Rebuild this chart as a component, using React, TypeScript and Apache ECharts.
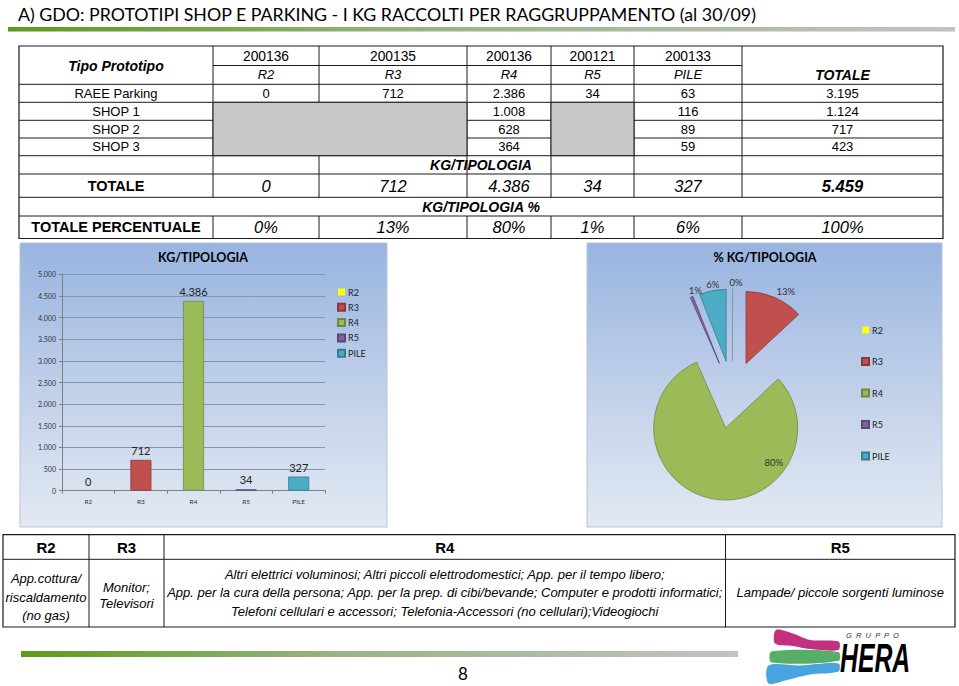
import React, { useEffect, useRef } from 'react';
import * as echarts from 'echarts';

// ---------- data ----------
const categories = ['R2', 'R3', 'R4', 'R5', 'PILE'];
const codes = ['200136', '200135', '200136', '200121', '200133'];
const rowLabels = ['RAEE Parking', 'SHOP 1', 'SHOP 2', 'SHOP 3'];
const raeeParking = [0, 712, 2386, 34, 63, 3195];
const shop1 = [null, null, 1008, null, 116, 1124];
const shop2 = [null, null, 628, null, 89, 717];
const shop3 = [null, null, 364, null, 59, 423];
const totals = [0, 712, 4386, 34, 327];
const grandTotal = 5459;
const percents = [0, 13, 80, 1, 6];
const percentTotal = 100;
const descHeaders = ['R2', 'R3', 'R4', 'R5'];
const descR2 = ['App.cottura/', 'riscaldamento', '(no gas)'];
const descR3 = ['Monitor;', 'Televisori'];
const descR4 = [
  'Altri elettrici voluminosi; Altri piccoli elettrodomestici; App. per il tempo libero;',
  'App. per la cura della persona; App. per la prep. di cibi/bevande; Computer e prodotti informatici;',
  'Telefoni cellulari e accessori; Telefonia-Accessori (no cellulari);Videogiochi',
];
const descR5 = ['Lampade/ piccole sorgenti luminose'];
const titleText = 'A) GDO: PROTOTIPI SHOP E PARKING - I KG RACCOLTI PER RAGGRUPPAMENTO (al 30/09)';

// ---------- styles ----------
const colors = ['#ffff00', '#c0504d', '#9bbb59', '#8064a2', '#4bacc6'];
const borderColors = ['#a8a800', '#8c3836', '#71893f', '#5c4776', '#357d91'];
const pieBorderColors = ['#8193ad', '#8c3836', '#71893f', '#5c4776', '#357d91'];
const pieLabelNudge = [[15, -4], [-4, -4], [56, -4], [16, -5], [12, -4]];
const ARIAL = '"Liberation Sans", Arial, sans-serif';
const CAL = 'Lato, "Noto Sans", sans-serif';

const fmt = (n: number) =>
  n >= 1000 ? `${Math.floor(n / 1000)}.${String(n % 1000).padStart(3, '0')}` : String(n);

function buildGraphics() {
  const G: any[] = [];
  const text = (x: number, y: number, t: string, size: number, opts: any = {}) =>
    G.push({
      type: 'text', x, y, z: opts.z ?? 5,
      scaleX: opts.scaleX ?? 1,
      style: {
        text: t, fontSize: size, fontFamily: opts.family ?? ARIAL,
        fontWeight: opts.weight ?? 'normal', fontStyle: opts.style ?? 'normal',
        fill: opts.fill ?? '#000', align: opts.align ?? 'center', verticalAlign: 'middle',
      },
    });
  const line = (x1: number, y1: number, x2: number, y2: number, w = 1, c = '#1a1a1a') =>
    G.push({ type: 'line', z: 4, shape: { x1, y1, x2, y2 }, style: { stroke: c, lineWidth: w } });
  const gradBar = (x: number, y: number, w: number, h: number) =>
    G.push({
      type: 'rect', z: 3, shape: { x, y, width: w, height: h },
      style: {
        fill: new echarts.graphic.LinearGradient(0, 0, 1, 0, [
          { offset: 0, color: '#5c9a1c' },
          { offset: 0.45, color: '#98b585' },
          { offset: 1, color: '#c2c2c2' },
        ]),
      },
    });

  // title
  text(18, 13.5, titleText, 17.8, { family: CAL, align: 'left' });
  gradBar(8, 27, 947, 4.5);

  // ---------- top table ----------
  const cx = [19, 213, 319, 467, 551, 634, 742, 943];
  const ry = [46, 65.5, 84.3, 102.3, 120.3, 138, 155.7, 174, 197.3, 216, 238.5];
  const mid = (a: number, b: number) => (a + b) / 2;
  G.push({ type: 'rect', z: 4, shape: { x: cx[0], y: ry[0], width: cx[7] - cx[0], height: ry[10] - ry[0] }, style: { fill: 'none', stroke: '#1a1a1a', lineWidth: 1.2 } });
  line(cx[1], ry[1], cx[6], ry[1]);
  for (let r = 2; r <= 9; r++) line(cx[0], ry[r], cx[7], ry[r]);
  for (let c = 1; c <= 6; c++) {
    line(cx[c], ry[0], cx[c], ry[7]);
    line(cx[c], ry[7], cx[c], ry[8]);
    line(cx[c], ry[9], cx[c], ry[10]);
  }
  [[1, 3], [4, 5]].forEach(([a, b]) =>
    G.push({ type: 'rect', z: 4.5, shape: { x: cx[a], y: ry[3], width: cx[b] - cx[a], height: ry[6] - ry[3] }, style: { fill: '#c8c8c8', stroke: '#1a1a1a', lineWidth: 1 } })
  );
  text(mid(cx[0], cx[1]), ry[1], 'Tipo Prototipo', 14, { weight: 'bold', style: 'italic' });
  codes.forEach((c, i) => text(mid(cx[i + 1], cx[i + 2]), mid(ry[0], ry[1]) + 0.5, c, 13.8));
  categories.forEach((c, i) => text(mid(cx[i + 1], cx[i + 2]), mid(ry[1], ry[2]), c, 13, { style: 'italic' }));
  text(mid(cx[6], cx[7]), mid(ry[1], ry[2]), 'TOTALE', 14, { weight: 'bold', style: 'italic' });
  [raeeParking, shop1, shop2, shop3].forEach((row, r) => {
    text(mid(cx[0], cx[1]), mid(ry[r + 2], ry[r + 3]), rowLabels[r], 13);
    row.forEach((v, i) => {
      if (v !== null) text(mid(cx[i + 1], cx[i + 2]), mid(ry[r + 2], ry[r + 3]), fmt(v as number), 13);
    });
  });
  text(mid(cx[0], cx[7]), mid(ry[6], ry[7]), 'KG/TIPOLOGIA', 14, { weight: 'bold', style: 'italic' });
  text(mid(cx[0], cx[1]), mid(ry[7], ry[8]), 'TOTALE', 14.5, { weight: 'bold' });
  totals.forEach((v, i) => text(mid(cx[i + 1], cx[i + 2]), mid(ry[7], ry[8]), fmt(v), 16.5, { style: 'italic' }));
  text(mid(cx[6], cx[7]), mid(ry[7], ry[8]), fmt(grandTotal), 16.5, { style: 'italic', weight: 'bold' });
  text(mid(cx[0], cx[7]), mid(ry[8], ry[9]), 'KG/TIPOLOGIA %', 14, { weight: 'bold', style: 'italic' });
  text(mid(cx[0], cx[1]), mid(ry[9], ry[10]), 'TOTALE PERCENTUALE', 14.5, { weight: 'bold' });
  percents.forEach((v, i) => text(mid(cx[i + 1], cx[i + 2]), mid(ry[9], ry[10]), `${v}%`, 16.5, { style: 'italic' }));
  text(mid(cx[6], cx[7]), mid(ry[9], ry[10]), `${percentTotal}%`, 16.5, { style: 'italic' });

  // ---------- chart boxes ----------
  const boxFill = () =>
    new echarts.graphic.LinearGradient(0, 0, 0, 1, [
      { offset: 0, color: '#98b4e0' },
      { offset: 0.55, color: '#c3d2ea' },
      { offset: 1, color: '#e3e9f3' },
    ]);
  G.push({ type: 'rect', z: -10, shape: { x: 20, y: 243, width: 367, height: 284 }, style: { fill: boxFill(), stroke: '#b9c4d6', lineWidth: 1 } });
  G.push({ type: 'rect', z: -10, shape: { x: 587, y: 243, width: 355, height: 284 }, style: { fill: boxFill(), stroke: '#b9c4d6', lineWidth: 1 } });
  text(203, 257, 'KG/TIPOLOGIA', 12.5, { family: CAL, weight: 'bold' });
  text(765, 257, '% KG/TIPOLOGIA', 12.5, { family: CAL, weight: 'bold' });

  // ---------- bottom table ----------
  const bx = [3, 89, 164, 725.5, 955];
  const by = [534.7, 559.3, 627];
  G.push({ type: 'rect', z: 4, shape: { x: bx[0], y: by[0], width: bx[4] - bx[0], height: by[2] - by[0] }, style: { fill: 'none', stroke: '#1a1a1a', lineWidth: 1.2 } });
  line(bx[0], by[1], bx[4], by[1]);
  for (let c = 1; c <= 3; c++) line(bx[c], by[0], bx[c], by[2]);
  descHeaders.forEach((h, i) => text(mid(bx[i], bx[i + 1]), mid(by[0], by[1]), h, 15, { weight: 'bold' }));
  descR2.forEach((t, i) => text(mid(bx[0], bx[1]), 578.3 + i * 18.8, t, 13, { style: 'italic' }));
  descR3.forEach((t, i) => text(mid(bx[1], bx[2]), 587.5 + i * 15.5, t, 13, { style: 'italic' }));
  descR4.forEach((t, i) => text(mid(bx[2], bx[3]), 574 + i * 18.8, t, 13, { style: 'italic' }));
  descR5.forEach((t) => text(mid(bx[3], bx[4]), 592.7, t, 13, { style: 'italic' }));

  // footer
  gradBar(21, 651, 717, 6);
  text(463, 673, '8', 17, { family: CAL });

  // HERA logo
  const poly = (pts: number[][], fill: string) => G.push({ type: 'polygon', z: 5, shape: { points: pts, smooth: 0.3 }, style: { fill } });
  poly([[776, 630], [793, 633.5], [810, 640], [838.5, 641.5], [838.5, 650], [810, 649], [793, 646], [775, 643.5]], '#c2317f');
  poly([[771.5, 651.5], [838.5, 652], [838.5, 661], [771.5, 662.5]], '#57ae68');
  poly([[768.5, 665.5], [800, 665.5], [838.5, 663.5], [838.5, 671.5], [810, 674.5], [787, 680], [768.5, 683.5]], '#48a3df');
  text(846, 635, 'G  R  U  P  P  O', 7.5, { align: 'left', style: 'italic', fill: '#333' });
  text(840, 658, 'HERA', 40, { align: 'left', weight: 'bold', style: 'italic', scaleX: 0.62 });
  return G;
}

export default function App() {
  const ref = useRef<HTMLDivElement>(null);
  useEffect(() => {
    if (!ref.current) return;
    const chart = echarts.init(ref.current, undefined, { renderer: 'svg' });
    const legendBase = {
      orient: 'vertical' as const, icon: 'rect', itemWidth: 7, itemHeight: 7,
      textStyle: { fontSize: 9, fontFamily: CAL, color: '#222', padding: [0, 0, 0, -2] },
      data: categories, selectedMode: false,
    };
    chart.setOption({
      animation: false,
      backgroundColor: '#ffffff',
      graphic: { elements: buildGraphics() },
      grid: { left: 62, top: 274.3, width: 263, height: 216.4, containLabel: false },
      xAxis: {
        type: 'category', data: categories,
        axisLine: { lineStyle: { color: '#7f7f7f', width: 1 } },
        axisTick: { show: true, length: 3, lineStyle: { color: '#7f7f7f' } },
        axisLabel: { fontSize: 6.5, color: '#333', margin: 7, fontFamily: CAL },
      },
      yAxis: {
        type: 'value', min: 0, max: 5000, interval: 500,
        axisLine: { show: true, lineStyle: { color: '#7f7f7f', width: 1 } },
        axisTick: { show: true, length: 3, lineStyle: { color: '#7f7f7f' } },
        axisLabel: { fontSize: 7, color: '#333', margin: 6, fontFamily: CAL, formatter: (v: number) => fmt(v) },
        splitLine: { lineStyle: { color: '#8896ab', width: 1 } },
      },
      legend: [
        { ...legendBase, left: 332, top: 282.5, itemGap: 6.3 },
        { ...legendBase, left: 856, top: 320.5, itemGap: 22.5 },
      ],
      series: [
        ...categories.map((name, i) => ({
          type: 'bar', name,
          data: totals.map((v, j) => (j === i ? v : '-')),
          barWidth: 21, barGap: '-100%',
          itemStyle: { color: colors[i], borderColor: borderColors[i], borderWidth: totals[i] === 0 ? 0 : 0.8 },
          label: {
            show: true, position: 'top', distance: 4,
            formatter: (p: any) => fmt(p.value), fontSize: 11, fontFamily: CAL, color: '#222',
          },
        })),
        {
          type: 'pie', name: 'pct',
          center: [732.5, 394.7], radius: 72,
          startAngle: 90, clockwise: true,
          selectedMode: 'multiple', selectedOffset: 34,
          avoidLabelOverlap: false,
          data: categories.map((name, i) => ({
            name, value: totals[i], selected: true,
            itemStyle: { color: colors[i], borderColor: pieBorderColors[i], borderWidth: 0.8 },
            select: { itemStyle: { color: colors[i], borderColor: pieBorderColors[i], borderWidth: 0.8 } },
            label: i === 2 ? { position: 'inside' } : undefined,
          })),
          label: {
            show: true, position: 'outside',
            formatter: (p: any) => `${percents[p.dataIndex]}%`,
            fontSize: 9.5, fontFamily: CAL, color: '#333',
          },
          labelLine: { show: false, length: 2, length2: 0 },
          labelLayout: (p: any) => ({ dx: pieLabelNudge[p.dataIndex][0], dy: pieLabelNudge[p.dataIndex][1] }),
          emphasis: { disabled: true },
        },
      ],
    });
    return () => chart.dispose();
  }, []);
  return <div ref={ref} style={{ position: 'absolute', left: 0, top: 0, width: 959, height: 686 }} />;
}
